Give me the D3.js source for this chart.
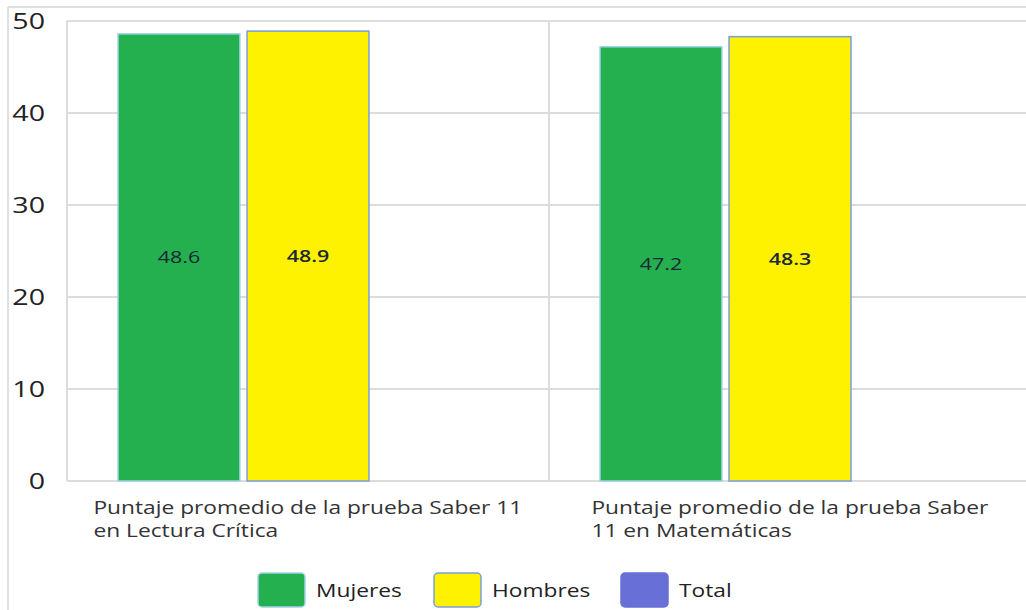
<!DOCTYPE html>
<html><head><meta charset="utf-8">
<script src="https://cdn.jsdelivr.net/npm/d3@7"></script>
<style>body{margin:0;background:#fff}svg{display:block}</style>
</head><body>
<svg id="c" width="1026" height="610"></svg>
<script>
const categories = ["Lectura Crítica", "Matemáticas"];
const categoryLabels = [
  ["Puntaje promedio de la prueba Saber 11", "en Lectura Crítica"],
  ["Puntaje promedio de la prueba Saber", "11 en Matemáticas"]
];
const seriesNames = ["Mujeres", "Hombres", "Total"];
const mujeres = [48.6, 47.2];
const hombres = [48.9, 48.3];
const total = [null, null];
const yTicks = [0, 10, 20, 30, 40, 50];
const colors = ["#24b04e", "#fff200", "#6870d8"];
const strokes = ["#9fd4e6", "#7a9edc", "#6870d8"];

const svg = d3.select("#c");
const font = "'Open Sans', 'Noto Sans', sans-serif";
const SX = 1.3; // horizontal stretch of text as in reference
const L = 67, R = 1031, T = 21, B = 481;

// outer frame
svg.append("line").attr("x1", 8).attr("x2", 1026).attr("y1", 7).attr("y2", 7).attr("stroke", "#e0e0e0").attr("stroke-width", 2);
svg.append("line").attr("x1", 8).attr("x2", 8).attr("y1", 7).attr("y2", 610).attr("stroke", "#e0e0e0").attr("stroke-width", 2);

const y = d3.scaleLinear().domain([0, 50]).range([B, T]);
const x0 = d3.scaleBand().domain(categories).range([L, R]);
const x1 = d3.scaleBand().domain(seriesNames).range([51, x0.bandwidth() - 51]).paddingInner(0.055);

svg.append("g").selectAll("line").data(yTicks).join("line")
  .attr("x1", L).attr("x2", R).attr("y1", d => y(d)).attr("y2", d => y(d))
  .attr("stroke", "#dcdcdc").attr("stroke-width", 2);
svg.append("g").selectAll("line").data(categories).join("line")
  .attr("x1", d => x0(d)).attr("x2", d => x0(d)).attr("y1", T).attr("y2", B)
  .attr("stroke", "#dcdcdc").attr("stroke-width", 2);

function st(x, yv) { return `translate(${x},${yv}) scale(${SX},1)`; }

svg.append("g").selectAll("text").data(yTicks).join("text")
  .attr("transform", d => st(45, y(d) + 8))
  .attr("text-anchor", "end").attr("font-family", font).attr("font-size", 22)
  .attr("fill", "#222").text(d => d);

const seriesData = [mujeres, hombres, total];
const bars = [];
seriesData.forEach((vals, si) => {
  vals.forEach((v, ci) => {
    if (v == null) return;
    bars.push({ s: seriesNames[si], si, c: categories[ci], v });
  });
});

svg.append("g").selectAll("rect").data(bars).join("rect")
  .attr("x", d => x0(d.c) + x1(d.s))
  .attr("y", d => y(d.v))
  .attr("width", x1.bandwidth())
  .attr("height", d => y(0) - y(d.v))
  .attr("fill", d => colors[d.si])
  .attr("stroke", d => strokes[d.si]).attr("stroke-width", 1.5);

svg.append("g").selectAll("text").data(bars).join("text")
  .attr("transform", d => st(x0(d.c) + x1(d.s) + x1.bandwidth() / 2, (y(d.v) + y(0)) / 2 + 6))
  .attr("text-anchor", "middle").attr("font-family", font).attr("font-size", 16.5)
  .attr("font-weight", d => d.si === 1 ? 600 : 400)
  .attr("fill", "#1b2636").text(d => d.v.toFixed(1));

// category labels: block centered in band, lines left-aligned
categories.forEach((c, i) => {
  const g = svg.append("g");
  const t = g.append("text").attr("font-family", font).attr("font-size", 17.5).attr("fill", "#333");
  categoryLabels[i].forEach((line, j) => {
    t.append("tspan").attr("x", 0).attr("y", j * 23.5).text(line);
  });
  const w = t.node().getBBox().width * SX;
  const cx = x0(c) + x0.bandwidth() / 2;
  g.attr("transform", st(cx - w / 2, 514));
});

const legX = [258, 434, 621];
const lg = svg.append("g").selectAll("g").data(seriesNames).join("g");
lg.append("rect").attr("x", (d, i) => legX[i]).attr("y", 573).attr("width", 47).attr("height", 34)
  .attr("rx", 4).attr("fill", (d, i) => colors[i]).attr("stroke", (d, i) => strokes[i]).attr("stroke-width", 1.5);
lg.append("text").attr("transform", (d, i) => st(legX[i] + 58, 597))
  .attr("font-family", font).attr("font-size", 17.5).attr("fill", "#222").text(d => d);
</script>
</body></html>
